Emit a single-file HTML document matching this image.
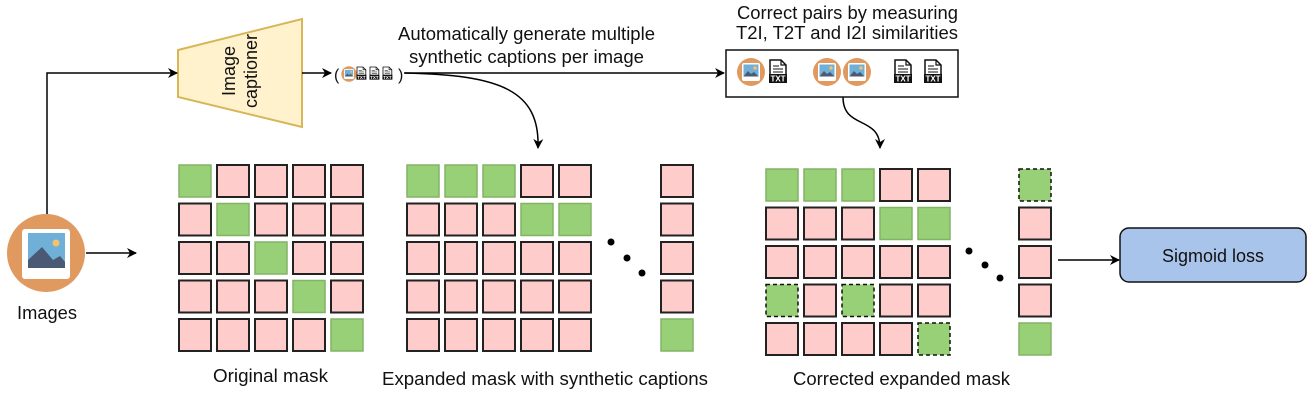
<!DOCTYPE html>
<html><head><meta charset="utf-8"><style>
html,body{margin:0;padding:0;background:#fff}
svg text{font-family:"Liberation Sans",Arial,sans-serif;fill:#111}
</style></head><body>
<svg width="1308" height="404" viewBox="0 0 1308 404" xmlns="http://www.w3.org/2000/svg">
<defs>
<marker id="ah" viewBox="0 0 10 10" refX="9" refY="5" markerWidth="10" markerHeight="10" markerUnits="userSpaceOnUse" orient="auto"><path d="M0,0 L10,5 L0,10 L3,5 z" fill="#000"/></marker>
<g id="pk"><rect x="0" y="0" width="32" height="32" fill="#ffcccc" stroke="#222" stroke-width="2"/></g>
<g id="gr"><rect x="0" y="0" width="32" height="32" fill="#97d077" stroke="#82b366" stroke-width="1.5"/></g>
<g id="gd"><rect x="0" y="0" width="32" height="32" fill="#97d077" stroke="#111" stroke-width="1.5" stroke-dasharray="4,3"/></g>
<g id="img"><circle cx="0" cy="0" r="14" fill="#e0995e"/><rect x="-9" y="-9" width="18" height="18" rx="2" fill="#fff"/><rect x="-7.5" y="-7.5" width="15" height="12" fill="#70b0d8"/><path d="M-7.5,4.5 L-3,-1 L0,2 L3,0 L7.5,4.5z" fill="#4a5a75"/><circle cx="4" cy="-4" r="1.7" fill="#f5c26b"/></g>
<g id="txt"><path d="M0,0 H11 L16,5 V22 H0 z" fill="#fff" stroke="#111" stroke-width="1.5"/><path d="M11,0 V5 H16" fill="none" stroke="#111" stroke-width="1.2"/><line x1="3" y1="6" x2="9" y2="6" stroke="#111"/><line x1="3" y1="9" x2="13" y2="9" stroke="#111"/><line x1="3" y1="12" x2="13" y2="12" stroke="#111"/><rect x="-1" y="14" width="18" height="9" fill="#111"/><text x="8" y="21.5" font-size="8" font-weight="bold" text-anchor="middle" style="fill:#fff">TXT</text></g>
</defs>

<!-- captioner -->
<polygon points="178,50 302,19 302,127 178,97" fill="#fff2cc" stroke="#d6b656" stroke-width="2"/>
<text transform="translate(235,71) rotate(-90)" font-size="18" text-anchor="middle" x="0" y="0">Image</text>
<text transform="translate(257,71) rotate(-90)" font-size="18" text-anchor="middle" x="0" y="0">captioner</text>

<!-- connectors -->
<polyline points="47,214 47,73 177,73" fill="none" stroke="#000" stroke-width="1.5" marker-end="url(#ah)"/>
<line x1="302" y1="73" x2="331" y2="73" stroke="#000" stroke-width="1.5" marker-end="url(#ah)"/>
<line x1="404" y1="73" x2="724" y2="73" stroke="#000" stroke-width="1.5" marker-end="url(#ah)"/>
<path d="M405,73 C500,75 540,90 538,148" fill="none" stroke="#000" stroke-width="1.5" marker-end="url(#ah)"/>
<path d="M843,97 C843,130 880,115 880,148" fill="none" stroke="#000" stroke-width="1.5" marker-end="url(#ah)"/>
<line x1="86" y1="253" x2="136" y2="253" stroke="#000" stroke-width="1.5" marker-end="url(#ah)"/>
<line x1="1058" y1="260" x2="1119" y2="260" stroke="#000" stroke-width="1.5" marker-end="url(#ah)"/>

<!-- tuple -->
<text x="334" y="80" font-size="16">(</text>
<g transform="translate(349,74) scale(0.55)"><use href="#img"/></g>
<g transform="translate(357,67) scale(0.55)"><use href="#txt"/></g>
<g transform="translate(370,67) scale(0.55)"><use href="#txt"/></g>
<g transform="translate(383,67) scale(0.55)"><use href="#txt"/></g>
<text x="398" y="80" font-size="16">)</text>

<text x="398" y="40" font-size="18" textLength="257" lengthAdjust="spacingAndGlyphs">Automatically generate multiple</text>
<text x="409" y="63" font-size="18" textLength="235" lengthAdjust="spacingAndGlyphs">synthetic captions per image</text>
<text x="737" y="19" font-size="18" textLength="221" lengthAdjust="spacingAndGlyphs">Correct pairs by measuring</text>
<text x="736" y="39" font-size="18" textLength="222" lengthAdjust="spacingAndGlyphs">T2I, T2T and I2I similarities</text>

<!-- box -->
<rect x="726" y="50" width="232" height="47" fill="#fff" stroke="#111" stroke-width="1.5"/>
<use href="#img" transform="translate(751,72)"/>
<use href="#txt" transform="translate(770,60)"/>
<use href="#img" transform="translate(827,72)"/>
<use href="#img" transform="translate(857,72)"/>
<use href="#txt" transform="translate(895,60)"/>
<use href="#txt" transform="translate(925,60)"/>

<!-- images -->
<circle cx="46" cy="253" r="39" fill="#e0995e"/>
<rect x="22" y="229" width="48" height="50" rx="3" fill="#fff"/>
<rect x="28" y="233" width="37" height="35" fill="#70b0d8"/>
<path d="M28,268 L28,260 L42,247 L53,260 L60,256 L65,262 L65,268z" fill="#4a5a75"/>
<circle cx="56" cy="243" r="3.5" fill="#f5c26b"/>
<text x="17" y="319" font-size="18" textLength="60" lengthAdjust="spacingAndGlyphs">Images</text>

<!-- original mask -->
<g>
<use href="#gr" x="179" y="165"/><use href="#pk" x="217" y="165"/><use href="#pk" x="255" y="165"/><use href="#pk" x="293" y="165"/><use href="#pk" x="331" y="165"/>
<use href="#pk" x="179" y="203.5"/><use href="#gr" x="217" y="203.5"/><use href="#pk" x="255" y="203.5"/><use href="#pk" x="293" y="203.5"/><use href="#pk" x="331" y="203.5"/>
<use href="#pk" x="179" y="242"/><use href="#pk" x="217" y="242"/><use href="#gr" x="255" y="242"/><use href="#pk" x="293" y="242"/><use href="#pk" x="331" y="242"/>
<use href="#pk" x="179" y="280.5"/><use href="#pk" x="217" y="280.5"/><use href="#pk" x="255" y="280.5"/><use href="#gr" x="293" y="280.5"/><use href="#pk" x="331" y="280.5"/>
<use href="#pk" x="179" y="319"/><use href="#pk" x="217" y="319"/><use href="#pk" x="255" y="319"/><use href="#pk" x="293" y="319"/><use href="#gr" x="331" y="319"/>
</g>
<text x="213" y="382" font-size="18" textLength="115" lengthAdjust="spacingAndGlyphs">Original mask</text>

<!-- expanded -->
<g>
<use href="#gr" x="407" y="165"/><use href="#gr" x="445" y="165"/><use href="#gr" x="483" y="165"/><use href="#pk" x="521" y="165"/><use href="#pk" x="559" y="165"/>
<use href="#pk" x="407" y="203.5"/><use href="#pk" x="445" y="203.5"/><use href="#pk" x="483" y="203.5"/><use href="#gr" x="521" y="203.5"/><use href="#gr" x="559" y="203.5"/>
<use href="#pk" x="407" y="242"/><use href="#pk" x="445" y="242"/><use href="#pk" x="483" y="242"/><use href="#pk" x="521" y="242"/><use href="#pk" x="559" y="242"/>
<use href="#pk" x="407" y="280.5"/><use href="#pk" x="445" y="280.5"/><use href="#pk" x="483" y="280.5"/><use href="#pk" x="521" y="280.5"/><use href="#pk" x="559" y="280.5"/>
<use href="#pk" x="407" y="319"/><use href="#pk" x="445" y="319"/><use href="#pk" x="483" y="319"/><use href="#pk" x="521" y="319"/><use href="#pk" x="559" y="319"/>
<use href="#pk" x="661" y="165"/><use href="#pk" x="661" y="203.5"/><use href="#pk" x="661" y="242"/><use href="#pk" x="661" y="280.5"/><use href="#gr" x="661" y="319"/>
</g>
<circle cx="611" cy="242" r="3.5" fill="#000"/><circle cx="627" cy="258" r="3.5" fill="#000"/><circle cx="642" cy="273" r="3.5" fill="#000"/>
<text x="382" y="385" font-size="18" textLength="326" lengthAdjust="spacingAndGlyphs">Expanded mask with synthetic captions</text>

<!-- corrected -->
<g>
<use href="#gr" x="766" y="169"/><use href="#gr" x="804" y="169"/><use href="#gr" x="842" y="169"/><use href="#pk" x="880" y="169"/><use href="#pk" x="918" y="169"/>
<use href="#pk" x="766" y="207.5"/><use href="#pk" x="804" y="207.5"/><use href="#pk" x="842" y="207.5"/><use href="#gr" x="880" y="207.5"/><use href="#gr" x="918" y="207.5"/>
<use href="#pk" x="766" y="246"/><use href="#pk" x="804" y="246"/><use href="#pk" x="842" y="246"/><use href="#pk" x="880" y="246"/><use href="#pk" x="918" y="246"/>
<use href="#gd" x="766" y="284.5"/><use href="#pk" x="804" y="284.5"/><use href="#gd" x="842" y="284.5"/><use href="#pk" x="880" y="284.5"/><use href="#pk" x="918" y="284.5"/>
<use href="#pk" x="766" y="323"/><use href="#pk" x="804" y="323"/><use href="#pk" x="842" y="323"/><use href="#pk" x="880" y="323"/><use href="#gd" x="918" y="323"/>
<use href="#gd" x="1019" y="169"/><use href="#pk" x="1019" y="207.5"/><use href="#pk" x="1019" y="246"/><use href="#pk" x="1019" y="284.5"/><use href="#gr" x="1019" y="323"/>
</g>
<circle cx="969" cy="251" r="3.5" fill="#000"/><circle cx="985" cy="265" r="3.5" fill="#000"/><circle cx="1000" cy="278" r="3.5" fill="#000"/>
<text x="793" y="385" font-size="18" textLength="217" lengthAdjust="spacingAndGlyphs">Corrected expanded mask</text>

<!-- sigmoid -->
<rect x="1120" y="228" width="186" height="54" rx="9" fill="#a9c4eb" stroke="#111" stroke-width="1.5"/>
<text x="1213" y="262" font-size="18" text-anchor="middle">Sigmoid loss</text>
</svg>
</body></html>
